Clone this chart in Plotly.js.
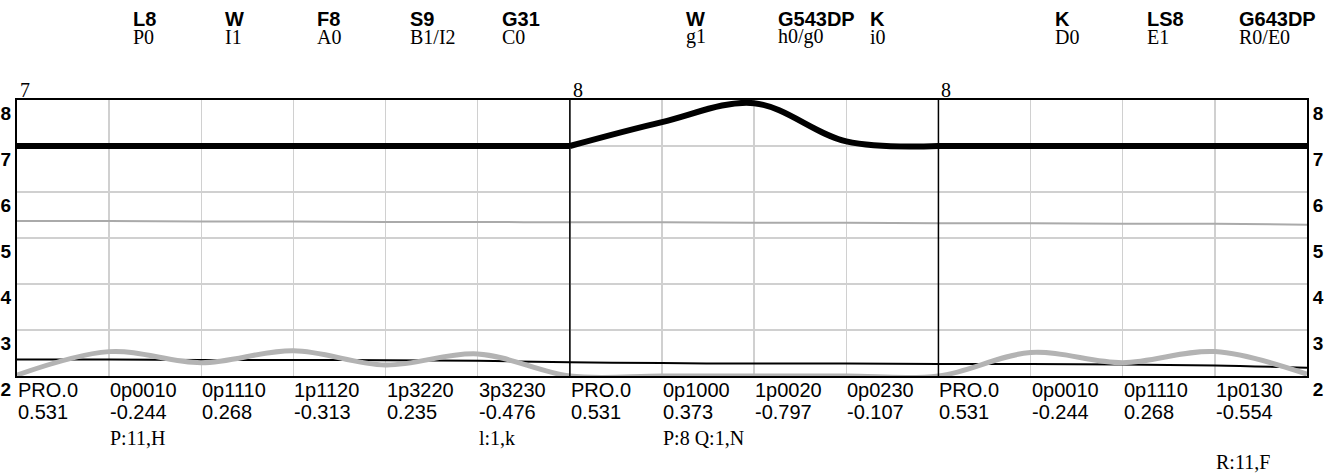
<!DOCTYPE html>
<html>
<head>
<meta charset="utf-8">
<script src="https://cdn.plot.ly/plotly-3.0.1.min.js"></script>
<style>html,body{margin:0;padding:0;background:#fff;}#chart{width:1332px;height:475px;}</style>
</head>
<body>
<div id="chart"></div>
<script>
// ---- data ----
const pointX = [0, 1, 2, 3, 4, 5, 6, 7, 8, 9, 10, 11, 12, 13, 14];
const catNames = ["PRO.0","0p0010","0p1110","1p1120","1p3220","3p3230","PRO.0","0p1000","1p0020","0p0230","PRO.0","0p0010","0p1110","1p0130"];
const catValues = ["0.531","-0.244","0.268","-0.313","0.235","-0.476","0.531","0.373","-0.797","-0.107","0.531","-0.244","0.268","-0.554"];
const noteLine3 = ["","P:11,H","","","","l:1,k","","P:8 Q:1,N","","","","","",""];
const noteLine4 = ["","","","","","","","","","","","","","R:11,F"];
const topBold = ["","L8","W","F8","S9","G31","","W","G543DP","K","","K","LS8","G643DP"];
const topSub = ["","P0","I1","A0","B1/I2","C0","","g1","h0/g0","i0","","D0","E1","R0/E0"];
const sectionIdx = [0, 6, 10];
const sectionText = ["7", "8", "8"];
const yTicks = [2, 3, 4, 5, 6, 7, 8];

const thickBlack = [7.0, 7.0, 7.0, 7.0, 7.0, 7.0, 7.0, 7.52, 7.93, 7.10, 7.0, 7.0, 7.0, 7.0, 7.0];
const thinGray   = [5.37, 5.37, 5.36, 5.36, 5.35, 5.35, 5.34, 5.34, 5.33, 5.33, 5.32, 5.32, 5.31, 5.31, 5.29];
const thinBlack  = [2.36, 2.36, 2.35, 2.35, 2.34, 2.33, 2.30, 2.28, 2.27, 2.27, 2.26, 2.26, 2.25, 2.23, 2.18];
const thickGray  = [2.02, 2.53, 2.29, 2.55, 2.24, 2.48, 2.0, 2.0, 2.0, 2.0, 2.0, 2.51, 2.29, 2.53, 2.04];

// ---- styling ----
const SANS = "Liberation Sans, Arial, sans-serif";
const SERIF = "Liberation Serif, Times New Roman, serif";

function line(y, color, width, shape, i0, i1) {
  const a = i0 === undefined ? 0 : i0, b = i1 === undefined ? pointX.length - 1 : i1;
  return {x: pointX.slice(a, b + 1), y: y.slice(a, b + 1), type: "scatter", mode: "lines",
          line: {color: color, width: width, shape: shape, smoothing: 1},
          hoverinfo: "skip", showlegend: false};
}
const traces = [
  line(thinGray, "#aaaaaa", 2, "spline"),
  line(thinBlack, "#000000", 2, "spline"),
  line(thickGray, "#b3b3b3", 5, "spline"),
  // thick black: flat stretches straight, the hump in the middle section smoothed
  line(thickBlack, "#000000", 6, "linear", 0, 6),
  line(thickBlack, "#000000", 6, "spline", 6, 10),
  line(thickBlack, "#000000", 6, "linear", 10, 14),
  {x: [0, 14], y: [2, 8], yaxis: "y2", type: "scatter", mode: "markers",
   marker: {opacity: 0}, hoverinfo: "skip", showlegend: false}
];

const annotations = [];
function ann(x, y, text, font) {
  annotations.push({x: x, y: y, xref: "x", yref: "paper", text: text, showarrow: false,
                    xanchor: "left", yanchor: "middle", font: font, borderpad: 0});
}
const sansF = {family: SANS, size: 20, color: "#000"};
const serifF = {family: SERIF, size: 20, color: "#000"};
const boldF = {family: SANS, size: 20, color: "#000", weight: 700};

catNames.forEach((t, i) => {
  ann(i, -0.052, t, sansF);
  ann(i, -0.132, catValues[i], sansF);
  if (noteLine3[i]) ann(i, -0.226, noteLine3[i], serifF);
  if (noteLine4[i]) ann(i, -0.313, noteLine4[i], serifF);
  if (topBold[i]) ann(i + 0.25, 1.294, topBold[i], boldF);
  if (topSub[i]) ann(i + 0.25, 1.229, topSub[i], serifF);
});
sectionIdx.forEach((i, k) => ann(i + 0.02, 1.037, sectionText[k], serifF));

const shapes = sectionIdx.slice(1).map(i => ({
  type: "line", xref: "x", yref: "paper", x0: i, x1: i, y0: 0, y1: 1,
  line: {color: "#000", width: 1.5}, layer: "above"
}));

const yCommon = {
  range: [2, 8], tickvals: yTicks, ticks: "", showline: true, linecolor: "#000", linewidth: 2,
  zeroline: false, ticklabelposition: "outside bottom",
  tickfont: {family: SANS, size: 19, color: "#000", weight: 700}
};

const layout = {
  width: 1332, height: 475,
  margin: {l: 17, r: 25, t: 100, b: 99},
  paper_bgcolor: "#fff", plot_bgcolor: "#fff",
  showlegend: false,
  xaxis: {range: [0, 14], tick0: 0, dtick: 1, showticklabels: false, ticks: "",
          showgrid: true, gridcolor: "#d0d0d0", gridwidth: 1.5, zeroline: false,
          showline: true, linecolor: "#000", linewidth: 2, mirror: true, fixedrange: true},
  yaxis: Object.assign({}, yCommon, {showgrid: true, gridcolor: "#d0d0d0", gridwidth: 1.5, side: "left"}),
  yaxis2: Object.assign({}, yCommon, {showgrid: false, overlaying: "y", side: "right"}),
  annotations: annotations,
  shapes: shapes
};

Plotly.newPlot("chart", traces, layout, {staticPlot: true, displayModeBar: false});
</script>
</body>
</html>
